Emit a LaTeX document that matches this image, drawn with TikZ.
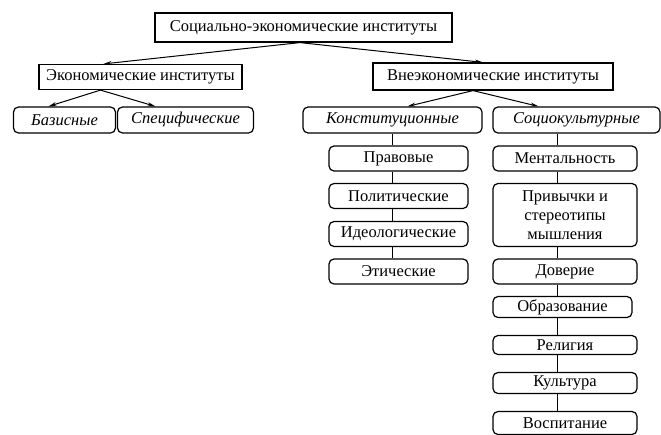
\documentclass[tikz,border=0pt]{standalone}
\usepackage{fontspec}
\setmainfont{Liberation Serif}
\usetikzlibrary{arrows.meta, positioning}

\begin{document}
\begin{tikzpicture}[x=1pt,y=-1pt,on grid,>={Stealth[length=8pt,width=4pt]},
		every node/.style={font=\fontsize{16.5}{19}\selectfont},
		sqbox/.style={draw, line width=1.2pt, inner sep=2pt, minimum height=25pt},
		rndbox/.style={draw, line width=1.2pt, inner sep=2pt, rounded corners=5pt, minimum height=25pt},
		leftkid/.style={rndbox, minimum width=139pt},
		rightkid/.style={rndbox, minimum width=144pt}]
		
		\useasboundingbox (0,0) rectangle (661,434);
		
		\node (inst) 
			[sqbox, minimum width=297pt, minimum height=29pt] at (303.5,27.5) {Социально-экономические институты};
			\node (econ) 
				[sqbox, minimum width=203pt, below left=49.5pt and 163pt of inst] {Экономические институты};
				\node (baz) 
					[rndbox, minimum width=102pt, minimum height=26pt, below left=43pt and 76pt of econ] {\itshape Базисные};
				\node (spec) 
					[rndbox, minimum width=136pt, minimum height=26pt, right=121pt of baz] {\itshape Специфические};
			\node (vne) 
				[sqbox, minimum width=240pt, minimum height=27pt, below right=49pt and 189.5pt of inst] {Внеэкономические институты};
				\node (konst) 
					[rndbox, minimum width=179pt, minimum height=26pt, below left=43.5pt and 100.5pt of vne] {\itshape Конституционные};
				\node (soc) 
					[rndbox, minimum width=167pt, minimum height=26pt, right=184pt of konst] {\itshape Социокультурные};
		
		% left column
		\node (prav) [leftkid, below right=38.5pt and 6pt of konst] {Правовые};
		\node (pol) [leftkid, below=37.5pt of prav] {Политические};
		\node (ideo) [leftkid, below=38pt of pol] {Идеологические};
		\node (etich) [leftkid, below=37.5pt of ideo] {Этические};
		
		% right column
		\node (ment) [rightkid, below left=38.5pt and 11.5pt of soc] {Ментальность};
		\node (priv) [rightkid, minimum height=63pt, align=center, below=56.5pt of ment] {Привычки и\\стереотипы\\мышления};
		\node (dover) [rightkid, below=56.5pt of priv] {Доверие};
		\node (obraz) [rightkid, minimum width=139pt, minimum height=21pt, below left=35.5pt and 2.5pt of dover] {Образование};
		\node (relig) [rightkid, minimum height=19pt, below right=38pt and 2.5pt of obraz] {Религия};
		\node (kult) [rightkid, minimum height=21pt, below=38pt of relig] {Культура};
		\node (vosp) [rightkid, minimum height=23pt, below=40pt of kult] {Воспитание};
		
		\coordinate (s0) at ([xshift=-3.5pt]inst.south);
		\coordinate (s1) at ([xshift=-40pt]econ.south);
		\coordinate (s2) at ([xshift=-20pt]vne.south);
		\coordinate (rline) at ([xshift=-19.5pt]soc.south);
		
		\path [->, line width=1pt]
		(s0) edge ([xshift=-37pt]econ.north)
		(s0) edge ([xshift=-10pt]vne.north)
		(s1) edge ([xshift=-16pt]baz.north)
		(s1) edge ([xshift=-30pt]spec.north)
		(s2) edge ([xshift=15pt]konst.north)
		(s2) edge ([xshift=-38pt]soc.north)
		;
		
		\foreach \a/\b in {konst/prav, prav/pol, pol/ideo, ideo/etich}
			\draw [line width=1pt] (konst.south |- \a.south) -- (konst.south |- \b.north);
		\foreach \a/\b in {soc/ment, ment/priv, priv/dover, dover/obraz, obraz/relig, relig/kult, kult/vosp}
			\draw [line width=1pt] (rline |- \a.south) -- (rline |- \b.north);
	\end{tikzpicture}
\end{document}
